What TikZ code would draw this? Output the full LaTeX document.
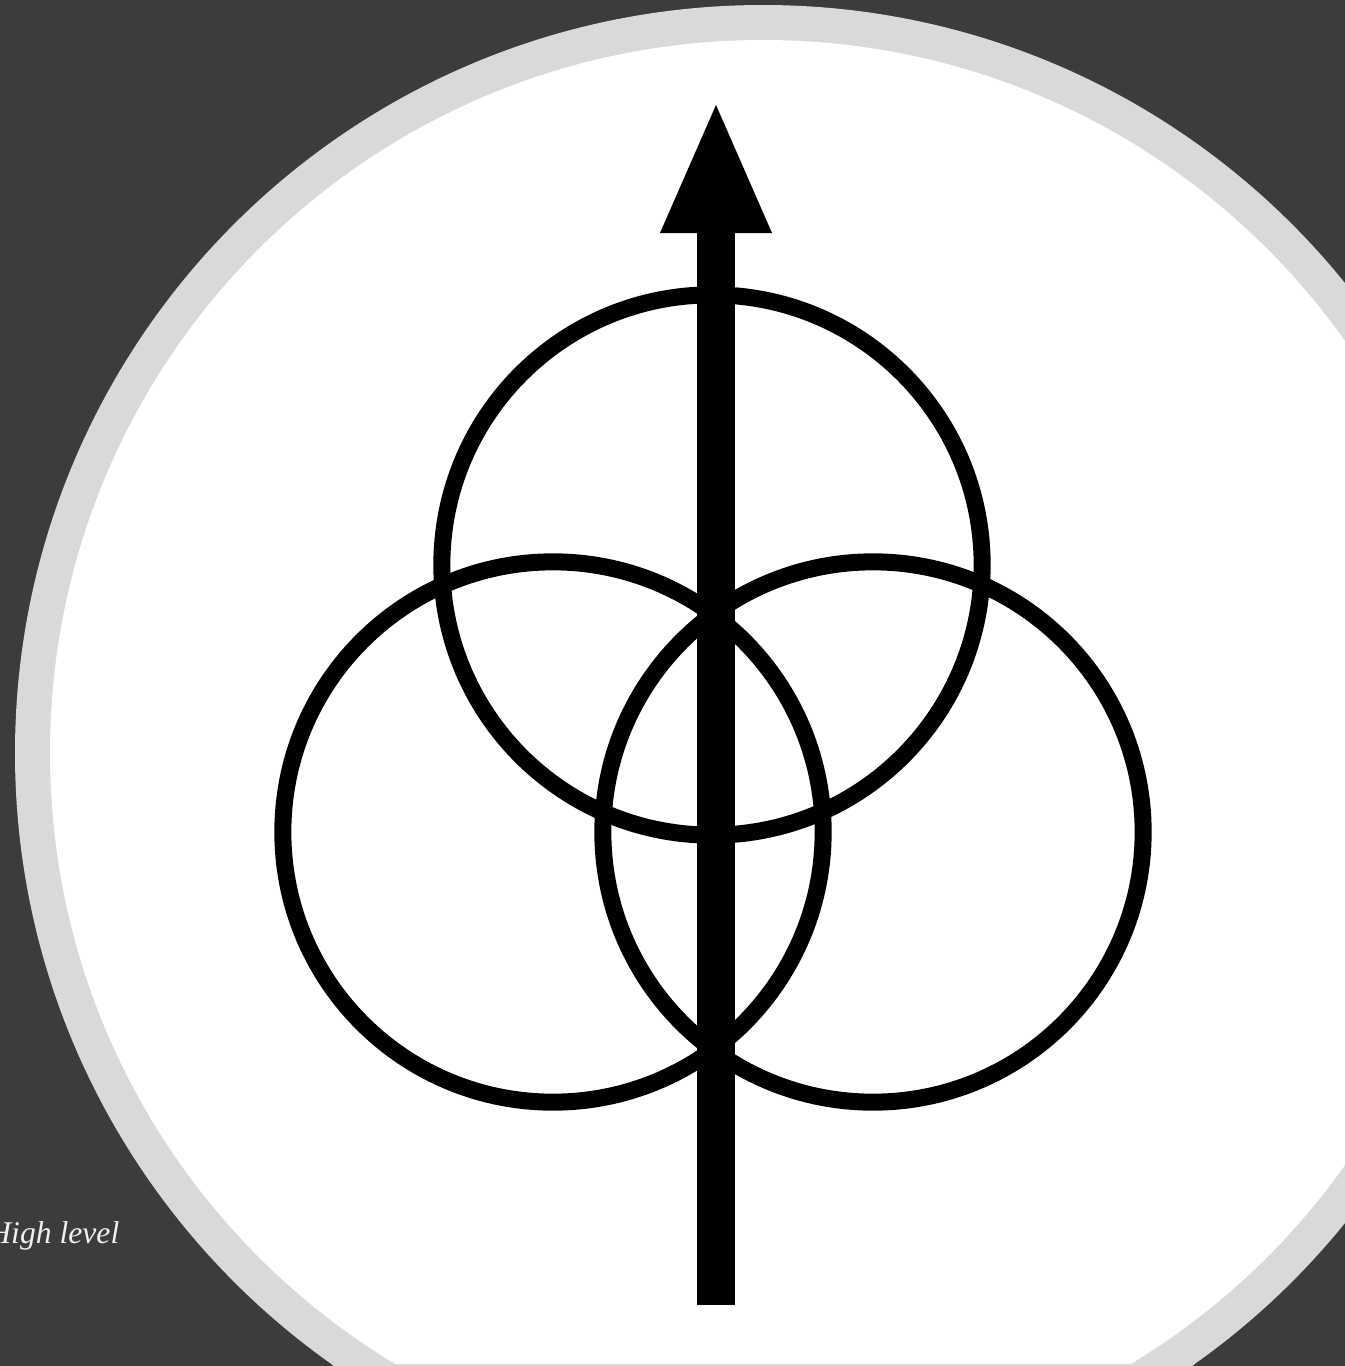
\documentclass[tikz,border=0pt]{standalone}
\usepackage{fontspec}
\setmainfont{Liberation Serif}
\usetikzlibrary{arrows.meta, positioning}
\definecolor{bg_dark}{HTML}{3C3C3C}
\definecolor{ring_grey}{HTML}{D9D9D9}
\tikzset{
    ring_circle/.style={circle, draw=black, line width=0.17cm, minimum size=5.4cm, inner sep=0pt},
    big_arrow/.style={line width=0.38cm, -{Triangle[length=1.28cm, width=1.12cm, line width=0pt]}}
}

\begin{document}
\begin{tikzpicture}[x=0.01cm, y=-0.01cm]
    % background and badge
    \fill[bg_dark] (0,0) rectangle (1345,1366);
    \useasboundingbox (0,0) rectangle (1345,1366);
    \fill[ring_grey] (763,753) circle[radius=748];
    \fill[white] (763,753) circle[radius=713];
    \begin{scope}
        \clip (763,753) circle[radius=748];
        \fill[ring_grey] (0,1363.5) rectangle (1345,1366);
    \end{scope}

    % three rings
    \node (top_ring) [ring_circle] at (712,565) {};
    \node (left_ring) [ring_circle] at (553,832) {};
    \node (right_ring) [ring_circle] at (873,832) {};

    % arrow through the rings
    \coordinate (tail) at (716,1305);
    \coordinate (tip) at (716,105);
    \draw [big_arrow] (tail) -- (tip);

    \node (caption) [anchor=base east, inner sep=0pt, text=white!94!black, font=\itshape\fontsize{9}{11}\selectfont] at (120,1243) {High level};
\end{tikzpicture}
\end{document}
